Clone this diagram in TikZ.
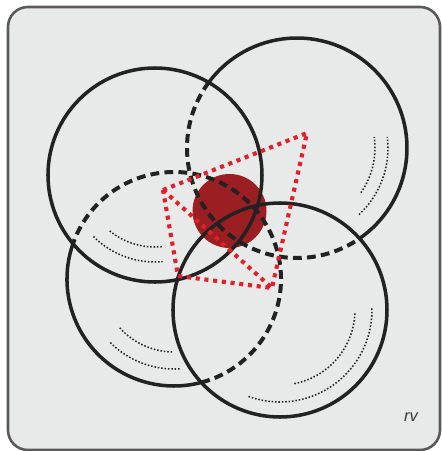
\documentclass[tikz,border=0pt]{standalone}
\usepackage{fontspec}
\newfontfamily\rvfont{Liberation Sans}
\usetikzlibrary{calc}
\definecolor{panel}{HTML}{E8E9E9}
\definecolor{frame}{HTML}{5A5A5A}
\definecolor{ink}{HTML}{222222}
\definecolor{core}{HTML}{9B1E22}
\definecolor{hullred}{HTML}{E3202A}

\begin{document}
\begin{tikzpicture}[scale=0.03,
    rim/.style={draw=ink,line width=3pt},
    rimdash/.style={rim,line width=3.4pt,dash pattern=on 7.5pt off 4.5pt},
    hull/.style={draw=hullred,line width=3.5pt,dash pattern=on 3.5pt off 4pt},
    glint/.style={draw=ink,line width=1.3pt,dash pattern=on 1.3pt off 1.6pt}]
  \useasboundingbox (0,0) rectangle (441,451);
  \draw[fill=panel,draw=frame,line width=2.2pt,rounded corners=17pt] (8,1) rectangle (440,444);

  % centres of the four spheres
  \coordinate (c1) at (155,276);
  \coordinate (c2) at (297,303);
  \coordinate (c3) at (174,172);
  \coordinate (c4) at (280,141);

  % red core
  \fill[core] (229.5,240) circle[radius=37];

  % spheres, hidden parts dashed
  \draw[rim] (c1) circle[radius=107];
  \draw[rim] (c4) circle[radius=107];
  \draw[rim] ($(c2)+(304.7:110)$) arc[start angle=304.7,end angle=503.4,radius=110];
  \draw[rimdash] ($(c2)+(143.4:110)$) arc[start angle=143.4,end angle=304.7,radius=110];
  \draw[rim] ($(c3)+(160.7:107)$) arc[start angle=160.7,end angle=284.8,radius=107];
  \draw[rimdash] ($(c3)+(-75.2:107)$) arc[start angle=-75.2,end angle=160.7,radius=107];

  % red hull
  \coordinate (pa) at (163,261);
  \coordinate (pb) at (307,318);
  \coordinate (pc) at (272,163);
  \coordinate (pd) at (178,175);
  \draw[hull] (pa) -- (pb) -- (pc) -- (pd) -- cycle;
  \draw[hull] (pa) -- (pc);

  % shine marks
  \foreach \c/\r/\a/\b in {c1/72/231/276, c1/87/225/275, c3/73/222/269, c3/90/225/274,
      c2/78/325/368, c2/91/313/367, c4/75/281/358, c4/92/250/362}
    \draw[glint] ($(\c)+(\a:\r)$) arc[start angle=\a,end angle=\b,radius=\r];

  \node[font=\rvfont\itshape\fontsize{14}{14}\selectfont,text=ink!90] (rv) at (411,34) {rv};
\end{tikzpicture}
\end{document}
